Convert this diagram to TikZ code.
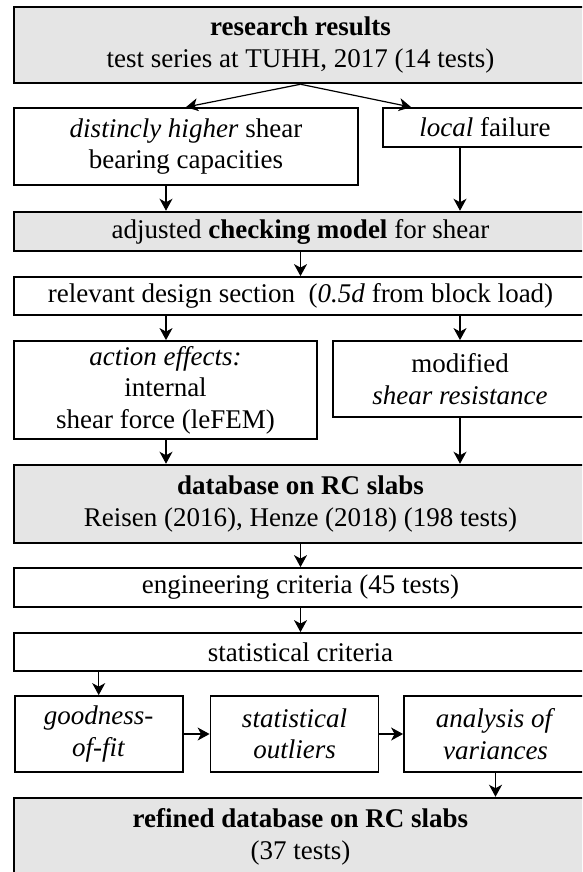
\documentclass[tikz,border=0pt]{standalone}
\usepackage{fontspec}
\setmainfont{Liberation Serif}
\usetikzlibrary{arrows.meta,calc}
\tikzset{
  every node/.style={font=\fontsize{27}{31.5}\selectfont, inner sep=0pt, align=center},
  gbox/.style={draw, line width=2.5pt, fill=black!10},
  wbox/.style={draw, line width=1.8pt, fill=white},
  arr/.style={line width=1.2pt, -{Stealth[length=12pt,width=13pt,inset=3.5pt]}},
}
\begin{document}
\begin{tikzpicture}[x=1pt,y=-1pt]
\useasboundingbox (0,0) rectangle (582,872);
\clip (0,0) rectangle (582,872);
\fill[white] (0,0) rectangle (582,872);
% boxes
\node[gbox, minimum width=573pt, minimum height=76pt] (b1) at (300.5,45)
  {\textbf{research results}\\test series at TUHH, 2017 (14 tests)};
\node[wbox, minimum width=344pt, minimum height=77pt] (b2a) at (186,146.5)
  {\textit{distincly higher} shear\\bearing capacities};
\node[wbox, minimum width=204pt, minimum height=39pt] (b2b) at (485,127.5)
  {\textit{local} failure};
\node[gbox, minimum width=573pt, minimum height=39pt] (chk) at (300.5,231.5)
  {adjusted \textbf{checking model} for shear};
\node[wbox, minimum width=573pt, minimum height=38pt] (rel) at (300.5,296)
  {relevant design section \ (\textit{0.5d} from block load)};
\node[wbox, minimum width=303pt, minimum height=98pt] (act) at (165.5,390)
  {\textit{action effects:}\\internal\\shear force (leFEM)};
\node[wbox, minimum width=254pt, minimum height=76pt] (mod) at (460,379)
  {modified\\\textit{shear resistance}};
\node[gbox, minimum width=573pt, minimum height=78pt] (db) at (300.5,504)
  {\textbf{database on RC slabs}\\Reisen (2016), Henze (2018) (198 tests)};
\node[wbox, minimum width=573pt, minimum height=39pt] (eng) at (300.5,587.5)
  {engineering criteria (45 tests)};
\node[wbox, minimum width=573pt, minimum height=38pt] (stat) at (300.5,652)
  {statistical criteria};
\node[wbox, minimum width=168pt, minimum height=76pt] (good) at (98.7,734)
  {\textit{goodness-}\\\textit{of-fit}};
\node[wbox, minimum width=168pt, minimum height=76pt] (out) at (294.5,734)
  {\textit{statistical}\\\textit{outliers}};
\node[wbox, minimum width=183pt, minimum height=76pt] (ana) at (495.5,734)
  {\textit{analysis of}\\\textit{variances}};
\node[gbox, minimum width=573pt, minimum height=78pt] (ref) at (300.5,837)
  {\textbf{refined database on RC slabs}\\(37 tests)};
% columns
\coordinate (colL) at (166,0);
\coordinate (colR) at (460,0);
% connectors
\draw[arr] (b1.south) -- (b2a.north);
\draw[arr] (b1.south) -- ($(b2b.north west)+(29,0)$);
\draw[arr] (b2a.south -| colL) -- (chk.north -| colL);
\draw[arr] (b2b.south -| colR) -- (chk.north -| colR);
\draw[arr] (chk.south) -- (rel.north);
\draw[arr] (rel.south -| colL) -- (act.north -| colL);
\draw[arr] (rel.south -| colR) -- (mod.north -| colR);
\draw[arr] (act.south -| colL) -- (db.north -| colL);
\draw[arr] (mod.south -| colR) -- (db.north -| colR);
\draw[arr] (db.south) -- (eng.north);
\draw[arr] (eng.south) -- (stat.north);
\draw[arr] (stat.south -| good.north) -- (good.north);
\draw[arr] (good.east) -- (out.west);
\draw[arr] (out.east) -- (ana.west);
\draw[arr] (ana.south) -- (ref.north -| ana.south);
\end{tikzpicture}
\end{document}
